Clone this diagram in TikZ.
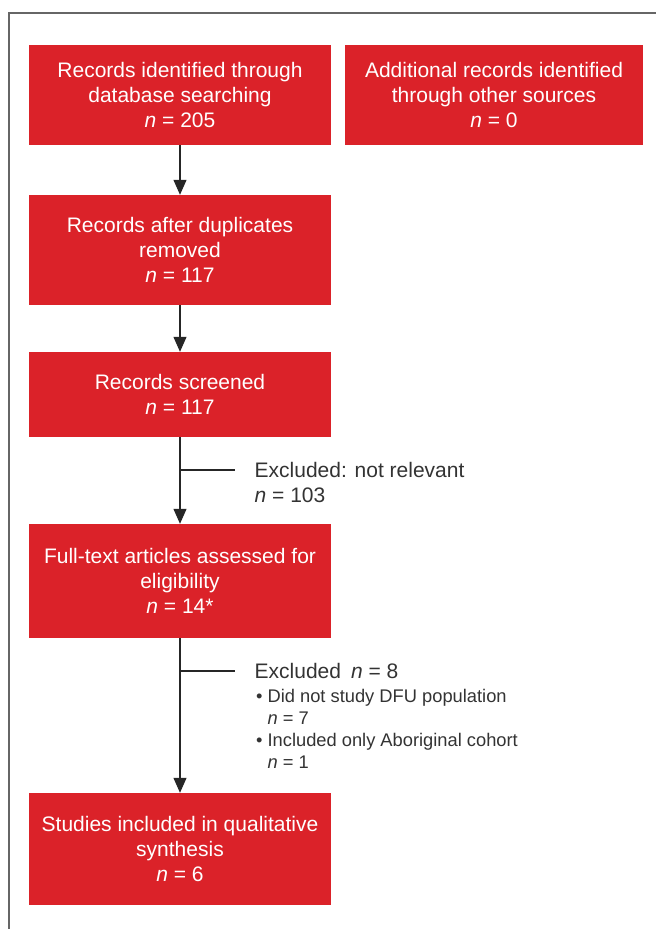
\documentclass[tikz,border=0pt]{standalone}
\usepackage{fontspec}
\setmainfont{Liberation Sans}
\usetikzlibrary{arrows.meta}
\definecolor{boxred}{RGB}{219,34,41}
\definecolor{txtgray}{RGB}{51,51,51}
\tikzset{>={Triangle[width=13pt,length=15pt]}}

\begin{document}
\begin{tikzpicture}[x=1pt,y=-1pt,
  redbox/.style={fill=boxred,text=white,minimum width=302pt,inner sep=0pt,
    align=center,font=\fontsize{21}{25}\selectfont},
  sidetext/.style={text=txtgray,inner sep=0pt,align=left,anchor=north west,
    font=\fontsize{21}{25}\selectfont},
  flow/.style={line width=1.2pt,draw=black!85}]
\useasboundingbox (0,0) rectangle (656,929);
% frame
\draw[line width=1.2pt,gray!80!black] (8,13) -- (656,13);
\draw[line width=1.2pt,gray!80!black] (9,13) -- (9,929);
% boxes
\node[redbox,minimum height=100pt] (ident) at (180,95)
  {Records identified through\\database searching\\\textit{n} = 205};
\node[redbox,minimum height=100pt,minimum width=298pt] (other) at (494,95)
  {Additional records identified\\through other sources\\\textit{n} = 0};
\node[redbox,minimum height=110pt] (dupl) at (180,250)
  {Records after duplicates\\removed\\\textit{n} = 117};
\node[redbox,minimum height=85pt] (screen) at (180,394.5)
  {Records screened\\\textit{n} = 117};
\node[redbox,minimum height=114pt] (full) at (180,581)
  {Full-text articles assessed for\\eligibility\\\textit{n} = 14*};
\node[redbox,minimum height=112pt] (incl) at (180,849)
  {Studies included in qualitative\\synthesis\\\textit{n} = 6};
% exclusions
\node[sidetext] (exc1) at (254.5,462) {Excluded: not relevant\\\textit{n} = 103};
\node[sidetext] (exc2) at (254.5,663) {Excluded\hspace{10pt}\textit{n} = 8};
\node[text=txtgray,inner sep=0pt,anchor=north west,
  font=\fontsize{18.3}{22}\selectfont] (exc2list) at (256,686.6)
  {\begin{tabular}{@{}l@{\hspace{5pt}}l@{}}
   \textbullet & Did not study DFU population\\
               & \textit{n} = 7\\
   \textbullet & Included only Aboriginal cohort\\
               & \textit{n} = 1
   \end{tabular}};
\coordinate (cut1) at (235,470);
\coordinate (cut2) at (235,671);
% arrows
\draw[flow,->] (ident.south) -- (dupl.north);
\draw[flow,->] (dupl.south) -- (screen.north);
\draw[flow,->] (screen.south) -- (full.north);
\draw[flow,->] (full.south) -- (incl.north);
\draw[flow] (screen.south |- cut1) -- (cut1);
\draw[flow] (full.south |- cut2) -- (cut2);
\end{tikzpicture}
\end{document}
